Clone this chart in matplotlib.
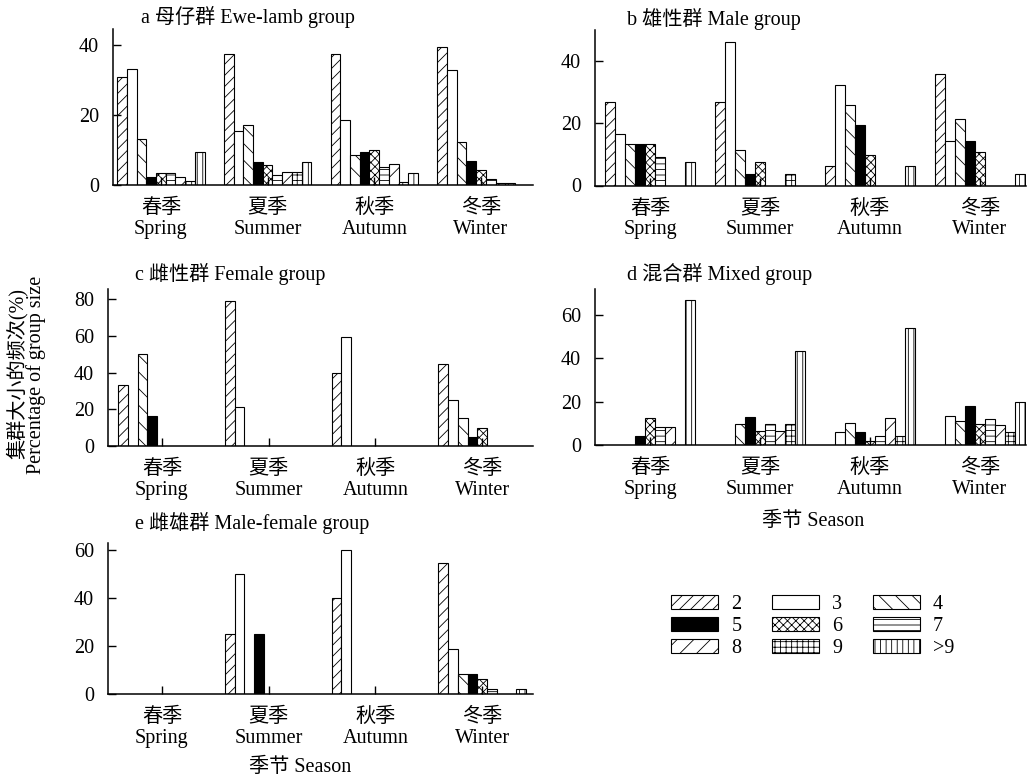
import matplotlib.pyplot as plt
from matplotlib.patches import Patch

plt.rcParams['font.family'] = ['Liberation Serif', 'Noto Sans CJK SC']
plt.rcParams['font.size'] = 14.5
plt.rcParams['hatch.linewidth'] = 0.6

seasons = ['春季\nSpring', '夏季\nSummer', '秋季\nAutumn', '冬季\nWinter']
sizes = ['2', '3', '4', '5', '6', '7', '8', '9', '>9']
fills = ['white', 'white', 'white', 'black', 'white', 'white', 'white', 'white', 'white']
hatches = ['///', '', '\\\\', '', 'xxxx', '---', '//', '+++', '|||']

# percentage per season, group sizes 2..>9
ewe_lamb = [
    [30.9, 33.1, 13.1, 2.4, 3.5, 3.5, 2.4, 1.2, 9.4],
    [37.4, 15.3, 17.2, 6.5, 5.7, 2.9, 3.6, 3.6, 6.5],
    [37.5, 18.7, 8.5, 9.4, 10.1, 5.2, 6.0, 0.8, 3.3],
    [39.4, 32.9, 12.2, 6.9, 4.4, 1.6, 0.7, 0.7, 0],
]
male = [
    [27.0, 16.5, 13.4, 13.4, 13.4, 9.1, 0, 0, 7.5],
    [27.0, 46.3, 11.4, 3.7, 7.6, 0, 0, 3.7, 0],
    [6.4, 32.4, 25.8, 19.4, 9.7, 0, 0, 0, 6.4],
    [35.7, 14.3, 21.4, 14.3, 10.7, 0, 0, 0, 3.6],
]
female = [
    [33.2, 0, 49.9, 16.6, 0, 0, 0, 0, 0],
    [78.9, 21.0, 0, 0, 0, 0, 0, 0, 0],
    [39.8, 59.7, 0, 0, 0, 0, 0, 0, 0],
    [44.9, 25.0, 15.0, 4.9, 9.9, 0, 0, 0, 0],
]
mixed = [
    [0, 0, 0, 4.2, 12.3, 8.2, 8.2, 0, 66.8],
    [0, 0, 9.9, 13.1, 6.6, 9.9, 6.6, 9.9, 43.4],
    [0, 6.2, 10.3, 6.2, 2.0, 4.2, 12.3, 4.2, 54.0],
    [0, 13.4, 11.0, 18.2, 9.9, 12.0, 9.1, 6.2, 19.9],
]
male_female = [
    [0, 0, 0, 0, 0, 0, 0, 0, 0],
    [25.1, 50.0, 0, 25.1, 0, 0, 0, 0, 0],
    [40.0, 60.0, 0, 0, 0, 0, 0, 0, 0],
    [54.3, 18.8, 8.3, 8.3, 6.4, 1.9, 0, 0, 1.9],
]

W, H = 1027, 776
fig = plt.figure(figsize=(W / 100, H / 100), dpi=100)

panels = [
    (ewe_lamb, 'a 母仔群 Ewe-lamb group', (113, 533, 29, 185), 44.6, [0, 20, 40], (-0.44, 42.86), (141, 17)),
    (male, 'b 雄性群 Male group', (595, 1026, 30, 185.5), 50, [0, 20, 40], (-1.0, 42.1), (627, 19)),
    (female, 'c 雌性群 Female group', (108, 533, 289, 446), 85.6, [0, 20, 40, 60, 80], (-1.06, 42.75), (135, 274)),
    (mixed, 'd 混合群 Mixed group', (595, 1026, 289, 445), 72, [0, 20, 40, 60], (-1.0, 42.1), (627, 274)),
    (male_female, 'e 雌雄群 Male-female group', (108, 533, 543, 694), 62.8, [0, 20, 40, 60], (-1.06, 42.75), (135, 523)),
]

for data, title, (l, r, t, b), ytop, yticks, xlim, (tx, ty) in panels:
    ax = fig.add_axes([l / W, 1 - b / H, (r - l) / W, (b - t) / H])
    for i, vals in enumerate(data):
        for j, v in enumerate(vals):
            if v > 0:
                ax.bar(i * 11 + j + 0.5, v, width=1, color=fills[j], edgecolor='black',
                       hatch=hatches[j], linewidth=0.8)
    ax.set_xlim(*xlim)
    ax.set_ylim(0, ytop)
    ax.set_yticks(yticks)
    ax.set_xticks([i * 11 + 4.5 for i in range(4)])
    ax.set_xticklabels(seasons, linespacing=1.1)
    ax.tick_params(axis='both', direction='in', length=6, width=1)
    ax.tick_params(axis='x', pad=10)
    ax.tick_params(axis='y', pad=10)
    for s in ['top', 'right']:
        ax.spines[s].set_visible(False)
    for s in ['left', 'bottom']:
        ax.spines[s].set_linewidth(1.1)
    fig.text(tx / W, 1 - ty / H, title, ha='left', va='center')

fig.text(17 / W, 1 - 373 / H, '集群大小的频次(%)', rotation=90, ha='center', va='center')
fig.text(36 / W, 1 - 375 / H, 'Percentage of group size', rotation=90, ha='center', va='center')
fig.text(813 / W, 1 - 521 / H, '季节 Season', ha='center', va='center')
fig.text(300 / W, 1 - 767 / H, '季节 Season', ha='center', va='center')

handles = [Patch(facecolor=fills[j], edgecolor='black', hatch=hatches[j], linewidth=0.8) for j in range(9)]
order = [0, 3, 6, 1, 4, 7, 2, 5, 8]
fig.legend([handles[k] for k in order], [sizes[k] for k in order], ncol=3,
           loc='upper left', bbox_to_anchor=(671 / W, 1 - 595 / H), frameon=False,
           borderpad=0, borderaxespad=0, handlelength=2.35, handleheight=0.65,
           handletextpad=0.65, columnspacing=1.5, labelspacing=0.15)

fig.savefig('out.png', dpi=100)
